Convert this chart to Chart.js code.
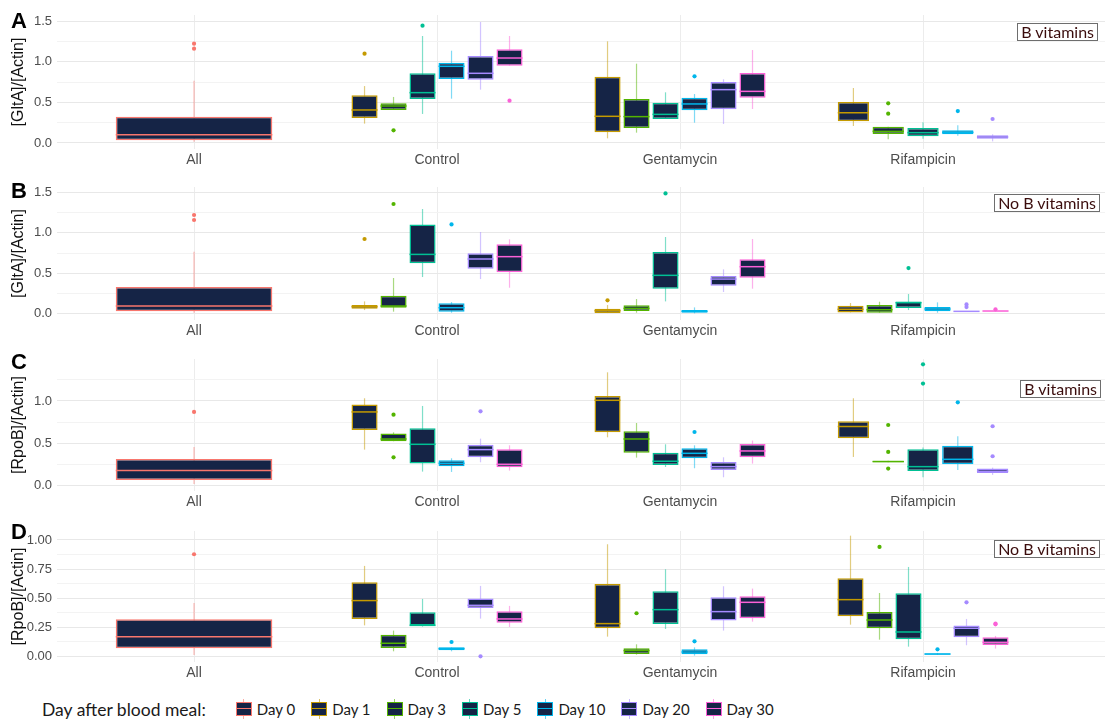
<!DOCTYPE html>
<html>
<head>
<meta charset="utf-8">
<script src="https://cdn.jsdelivr.net/npm/chart.js@4.4.1/dist/chart.umd.min.js"></script>
<style>
  body { margin: 0; background: #fff; }
  #fig { position: relative; width: 1105px; height: 720px; overflow: hidden; }
  .panel { position: absolute; left: 0; width: 1105px; }
  .tag { position: absolute; left: 11px; font: bold 22px/22px "Liberation Sans", Arial, sans-serif; color: #000; }
  .note { position: absolute; border: 1px solid #6e6e6e; background: #fff; padding: 0 3px;
          font: 16px/16px Lato, sans-serif; color: #3a0c0c; white-space: nowrap; }
  #legend { position: absolute; left: 42px; top: 698px; height: 22px; display: flex; align-items: center;
            font: 15px Lato, sans-serif; color: #1a1a1a; }
  #legend .title { font-size: 17.5px; margin-right: 30px; }
  #legend .item { display: flex; align-items: center; margin-right: 16px; }
  .key { position: relative; display: inline-block; width: 16px; height: 20px; margin-right: 5px; }
  .key::before { content: ''; position: absolute; left: 7.5px; top: 0; width: 1px; height: 20px; background: var(--c); opacity: .6; }
  .key i { position: absolute; left: 0; top: 3px; width: 16px; height: 14px; box-sizing: border-box;
           border: 1.5px solid var(--c); background: #152446; }
  .key i::after { content: ''; position: absolute; left: 0; right: 0; top: 4.5px; height: 1.5px; background: var(--c); }
</style>
</head>
<body>
<div id="fig">
  <div class="panel" style="top:0;height:172px"><canvas id="pA"></canvas></div>
  <div class="panel" style="top:172px;height:171px"><canvas id="pB"></canvas></div>
  <div class="panel" style="top:343px;height:171px"><canvas id="pC"></canvas></div>
  <div class="panel" style="top:514px;height:171px"><canvas id="pD"></canvas></div>

  <div class="tag" style="top:10px">A</div>
  <div class="tag" style="top:180px">B</div>
  <div class="tag" style="top:351px">C</div>
  <div class="tag" style="top:521px">D</div>

  <div class="note" style="top:23px;right:7px">B vitamins</div>
  <div class="note" style="top:194px;right:5px">No B vitamins</div>
  <div class="note" style="top:380px;right:4px">B vitamins</div>
  <div class="note" style="top:540px;right:5px">No B vitamins</div>

  <div id="legend"><span class="title">Day after blood meal:</span></div>
</div>

<script>
const categories = ['All', 'Control', 'Gentamycin', 'Rifampicin'];
const days = ['Day 0', 'Day 1', 'Day 3', 'Day 5', 'Day 10', 'Day 20', 'Day 30'];
const dayColors = ['#F8766D', '#C49A00', '#53B400', '#00C094', '#00B6EB', '#A58AFF', '#FB61D7'];
const boxFill = '#152446';

// rows = days, columns = categories; each box is [low whisker, Q1, median, Q3, high whisker]
const gltaVit = [
    [[0.016, 0.033, 0.102, 0.324, 0.766], null, null, null],
    [null, [0.238, 0.307, 0.406, 0.586, 0.700], [0.057, 0.131, 0.328, 0.816, 1.250], [0.209, 0.266, 0.373, 0.504, 0.676]],
    [null, [0.406, 0.406, 0.455, 0.488, 0.566], [0.127, 0.184, 0.324, 0.541, 0.975], [0.045, 0.111, 0.143, 0.200, 0.200]],
    [null, [0.357, 0.541, 0.619, 0.857, 1.316], [0.295, 0.295, 0.352, 0.496, 0.623], [0.053, 0.082, 0.127, 0.184, 0.254]],
    [null, [0.545, 0.787, 0.943, 0.988, 1.135], [0.250, 0.402, 0.480, 0.557, 0.602], [0.090, 0.107, 0.131, 0.156, 0.217]],
    [null, [0.656, 0.779, 0.857, 1.070, 1.488], [0.234, 0.414, 0.656, 0.750, 0.783], [0.020, 0.053, 0.074, 0.094, 0.107]],
    [null, [0.951, 0.951, 1.045, 1.152, 1.316], [0.418, 0.557, 0.635, 0.861, 1.143], null]
];
const gltaVitOut = [
    [[1.221, 1.160], [], [], []],
    [[], [1.098], [], []],
    [[], [0.156], [], [0.488, 0.361]],
    [[], [1.443], [], []],
    [[], [], [0.820], [0.393]],
    [[], [], [], [0.295]],
    [[], [0.520], [], []]
];

const gltaNoVit = [
    [[0.012, 0.029, 0.095, 0.330, 0.766], null, null, null],
    [null, [0.045, 0.062, 0.087, 0.107, 0.152], [0.008, 0.008, 0.037, 0.062, 0.107], [0.016, 0.016, 0.054, 0.099, 0.132]],
    [null, [0.025, 0.074, 0.095, 0.222, 0.441], [0.012, 0.033, 0.066, 0.103, 0.181], [0.012, 0.012, 0.049, 0.107, 0.148]],
    [null, [0.453, 0.622, 0.733, 1.104, 1.294], [0.152, 0.309, 0.474, 0.762, 0.948], [0.045, 0.070, 0.136, 0.152, 0.243]],
    [null, [0.012, 0.025, 0.074, 0.128, 0.144], [0.004, 0.012, 0.029, 0.045, 0.078], [0.012, 0.029, 0.058, 0.082, 0.140]],
    [null, [0.428, 0.556, 0.676, 0.746, 1.010], [0.268, 0.346, 0.428, 0.466, 0.548], [0.025, 0.026, 0.029, 0.032, 0.033]],
    [null, [0.321, 0.511, 0.705, 0.857, 0.919], [0.309, 0.445, 0.581, 0.672, 0.923], [0.030, 0.031, 0.033, 0.035, 0.037]]
];
const gltaNoVitOut = [
    [[1.220, 1.158], [], [], []],
    [[], [0.923], [0.165], []],
    [[], [1.356], [], []],
    [[], [], [1.487], [0.564]],
    [[], [1.104], [], []],
    [[], [], [], [0.115, 0.082]],
    [[], [], [], [0.054]]
];

const rpobVit = [
    [[0.016, 0.063, 0.174, 0.312, 0.455], null, null, null],
    [null, [0.423, 0.656, 0.870, 0.957, 1.032], [0.569, 0.628, 1.008, 1.059, 1.340], [0.336, 0.557, 0.696, 0.759, 1.032]],
    [null, [0.522, 0.522, 0.549, 0.613, 0.628], [0.328, 0.387, 0.549, 0.640, 0.739], [0.272, 0.272, 0.281, 0.290, 0.290]],
    [null, [0.162, 0.257, 0.486, 0.676, 0.941], [0.217, 0.241, 0.285, 0.387, 0.486], [0.095, 0.170, 0.221, 0.427, 0.447]],
    [null, [0.158, 0.225, 0.261, 0.296, 0.320], [0.202, 0.320, 0.379, 0.439, 0.474], [0.182, 0.249, 0.308, 0.470, 0.581]],
    [null, [0.273, 0.332, 0.423, 0.482, 0.553], [0.095, 0.182, 0.221, 0.277, 0.332], [0.123, 0.146, 0.166, 0.198, 0.209]],
    [null, [0.174, 0.213, 0.249, 0.427, 0.474], [0.257, 0.332, 0.407, 0.490, 0.530], null]
];
const rpobVitOut = [
    [[0.870], [], [], []],
    [[], [], [], []],
    [[], [0.838, 0.332], [], [0.715, 0.395, 0.198]],
    [[], [], [], [1.435, 1.206]],
    [[], [], [0.632], [0.984]],
    [[], [0.877], [], [0.700, 0.344]],
    [[], [], [], []]
];

const rpobNoVit = [
    [[0.011, 0.069, 0.169, 0.318, 0.458], null, null, null],
    [null, [0.266, 0.321, 0.479, 0.636, 0.777], [0.169, 0.241, 0.281, 0.622, 0.963], [0.272, 0.344, 0.487, 0.670, 1.037]],
    [null, [0.043, 0.072, 0.112, 0.186, 0.221], [0.014, 0.020, 0.049, 0.069, 0.103], [0.143, 0.241, 0.312, 0.381, 0.544]],
    [null, [0.255, 0.264, 0.266, 0.378, 0.493], [0.235, 0.278, 0.401, 0.559, 0.748], [0.083, 0.146, 0.209, 0.542, 0.768]],
    [null, [0.043, 0.052, 0.066, 0.077, 0.077], [0.006, 0.017, 0.037, 0.060, 0.077], [0.011, 0.013, 0.020, 0.025, 0.029]],
    [null, [0.324, 0.415, 0.438, 0.496, 0.605], [0.221, 0.307, 0.384, 0.507, 0.602], [0.095, 0.163, 0.241, 0.264, 0.321]],
    [null, [0.252, 0.289, 0.321, 0.387, 0.433], [0.298, 0.327, 0.464, 0.516, 0.582], [0.066, 0.097, 0.120, 0.163, 0.175]]
];
const rpobNoVitOut = [
    [[0.877], [], [], []],
    [[], [], [], []],
    [[], [], [0.370], [0.940]],
    [[], [], [], []],
    [[], [0.123], [0.129], [0.060]],
    [[], [0.000], [], [0.464]],
    [[], [], [], [0.281, 0.275]]
];

Chart.defaults.font.family = '"Liberation Sans", Arial, sans-serif';
Chart.defaults.animation = false;

function withAlpha(hex, a) {
    let n = parseInt(hex.slice(1), 16);
    return `rgba(${n >> 16}, ${(n >> 8) & 255}, ${n & 255}, ${a})`;
}

// whiskers go under the boxes, medians and outlier dots on top
const boxPlotParts = {
    id: 'boxPlotParts',
    beforeDatasetsDraw(chart) {
        let { ctx, scales: { y } } = chart;
        chart.data.datasets.forEach((ds, di) => {
            chart.getDatasetMeta(di).data.forEach((bar, ci) => {
                let s = ds.stats[ci];
                if (!s) return;
                ctx.save();
                ctx.strokeStyle = withAlpha(ds.borderColor, 0.5);
                ctx.lineWidth = 1.2;
                ctx.beginPath();
                ctx.moveTo(bar.x, y.getPixelForValue(s[0]));
                ctx.lineTo(bar.x, y.getPixelForValue(s[4]));
                ctx.stroke();
                ctx.restore();
            });
        });
    },
    afterDatasetsDraw(chart) {
        let { ctx, scales: { y } } = chart;
        chart.data.datasets.forEach((ds, di) => {
            chart.getDatasetMeta(di).data.forEach((bar, ci) => {
                let s = ds.stats[ci];
                if (s) {
                    let my = y.getPixelForValue(s[2]);
                    ctx.save();
                    ctx.strokeStyle = ds.borderColor;
                    ctx.lineWidth = 1.5;
                    ctx.beginPath();
                    ctx.moveTo(bar.x - bar.width / 2, my);
                    ctx.lineTo(bar.x + bar.width / 2, my);
                    ctx.stroke();
                    ctx.restore();
                }
                (ds.outliers[ci] || []).forEach(v => {
                    ctx.save();
                    ctx.fillStyle = ds.borderColor;
                    ctx.beginPath();
                    ctx.arc(bar.x, y.getPixelForValue(v), 2.1, 0, Math.PI * 2);
                    ctx.fill();
                    ctx.restore();
                });
            });
        });
    }
};

function makePanel(id, boxes, outliers, yTitle, yMin, yMax, major, minor, dec, padTop) {
    let isMajor = v => Math.abs(v / major - Math.round(v / major)) < 1e-6;
    let tickVals = [];
    for (let k = 0; k * minor <= yMax + 1e-9; k++) tickVals.push(+(k * minor).toFixed(4));

    let datasets = days.map((d, di) => ({
        label: d,
        data: categories.map((c, ci) => ({ x: ci + 1, y: boxes[di][ci] ? [boxes[di][ci][1], boxes[di][ci][3]] : null })),
        stats: boxes[di],
        outliers: outliers[di],
        backgroundColor: boxFill,
        borderColor: dayColors[di],
        borderWidth: 1.5,
        borderSkipped: false,
        skipNull: true,
        categoryPercentage: 0.716,
        barPercentage: 0.9
    }));

    new Chart(document.getElementById(id), {
        type: 'bar',
        data: { datasets },
        plugins: [boxPlotParts],
        options: {
            responsive: true,
            maintainAspectRatio: false,
            layout: { padding: { top: padTop, left: 0, right: 0, bottom: 0 } },
            plugins: { legend: { display: false }, tooltip: { enabled: false } },
            scales: {
                x: {
                    type: 'linear',
                    min: 0.436,
                    max: 4.749,
                    offset: false,
                    grid: { color: '#ececec', drawTicks: false, offset: false },
                    border: { display: false },
                    afterBuildTicks: ax => { ax.ticks = categories.map((c, i) => ({ value: i + 1 })); },
                    afterFit: ax => { ax.height = 23; },
                    ticks: { autoSkip: false, maxRotation: 0, padding: 3, color: '#4d4d4d', font: { size: 14 },
                             callback: v => categories[v - 1] || '' }
                },
                y: {
                    min: yMin,
                    max: yMax,
                    afterBuildTicks: ax => { ax.ticks = tickVals.map(v => ({ value: v })); },
                    afterFit: ax => { ax.width = 57; },
                    grid: { color: c => isMajor(c.tick.value) ? '#e8e8e8' : '#f3f3f3', drawTicks: false },
                    border: { display: false },
                    ticks: { autoSkip: false, padding: 5, color: '#4d4d4d', font: { size: 13 },
                             callback: v => isMajor(v) ? v.toFixed(dec) : '' },
                    title: { display: true, text: yTitle, color: '#111', font: { size: 16 },
                             padding: { top: 9, bottom: 0 } }
                }
            }
        }
    });
}

makePanel('pA', gltaVit, gltaVitOut, '[GltA]/[Actin]', -0.074, 1.574, 0.5, 0.25, 1, 15);
makePanel('pB', gltaNoVit, gltaNoVitOut, '[GltA]/[Actin]', -0.078, 1.566, 0.5, 0.25, 1, 15);
makePanel('pC', rpobVit, rpobVitOut, '[RpoB]/[Actin]', -0.068, 1.498, 0.5, 0.25, 1, 16);
makePanel('pD', rpobNoVit, rpobNoVitOut, '[RpoB]/[Actin]', -0.049, 1.077, 0.25, 0.125, 2, 17);

// shared legend for the day colours
let legend = document.getElementById('legend');
days.forEach((d, i) => {
    let item = document.createElement('span');
    item.className = 'item';
    item.innerHTML = `<span class="key" style="--c:${dayColors[i]}"><i></i></span>${d}`;
    legend.appendChild(item);
});
</script>
</body>
</html>
